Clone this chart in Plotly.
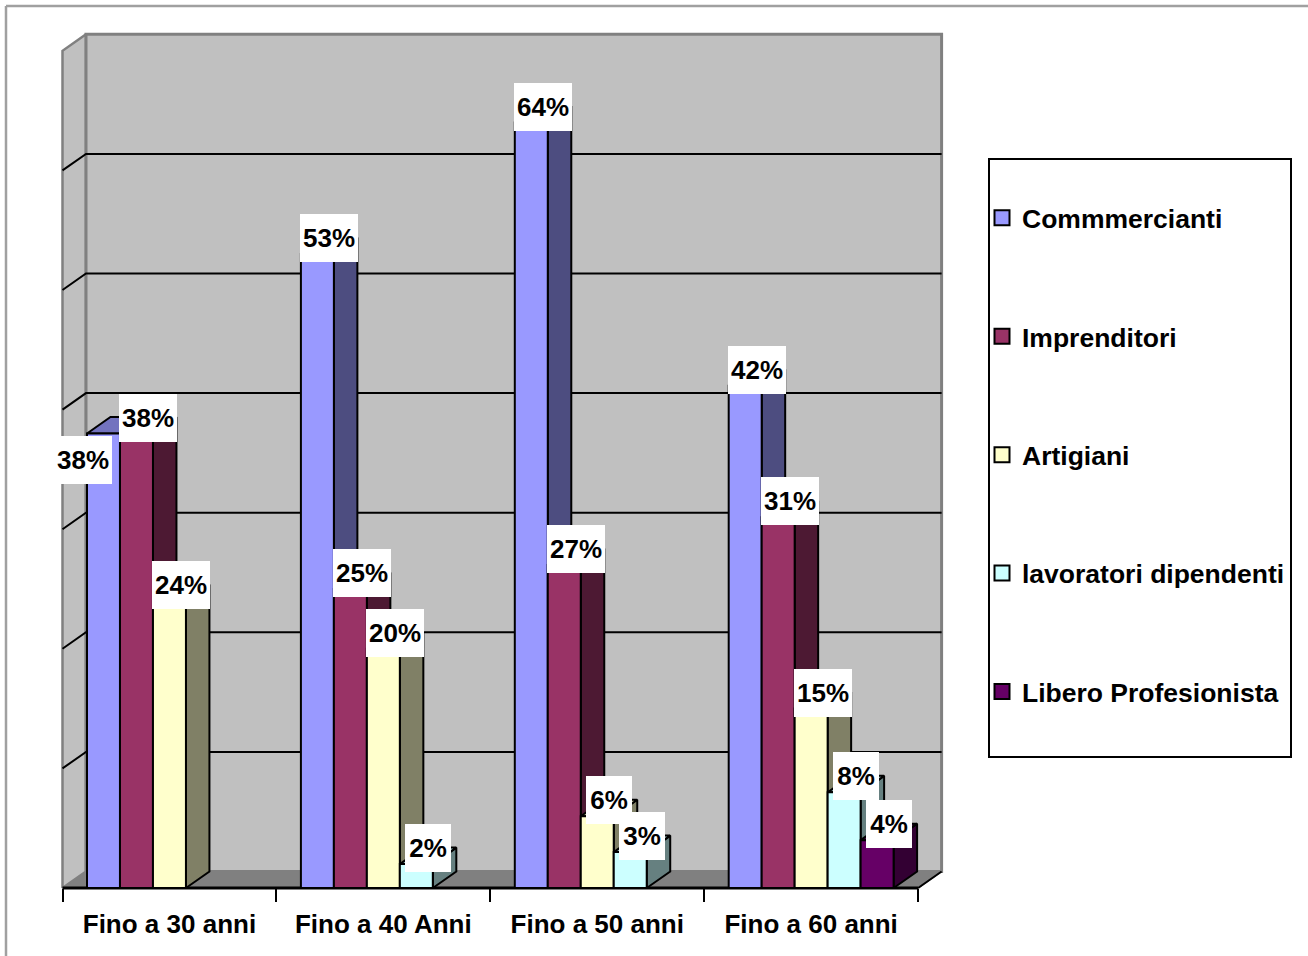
import plotly.graph_objects as go

# Survey shares by age band and occupation (percent)
categories = ["Fino a 30 anni", "Fino a 40 Anni", "Fino a 50 anni", "Fino a 60 anni"]
series_names = ["Commmercianti", "Imprenditori", "Artigiani", "lavoratori dipendenti", "Libero Profesionista"]
commercianti = [38, 53, 64, 42]
imprenditori = [38, 25, 27, 31]
artigiani = [24, 20, 6, 15]
dipendenti = [None, 2, 3, 8]
professionisti = [None, None, None, 4]
series_values = [commercianti, imprenditori, artigiani, dipendenti, professionisti]
grid_values = [10, 20, 30, 40, 50, 60]

front_colors = ["#9999FF", "#993366", "#FFFFCC", "#CCFFFF", "#660066"]
side_colors = ["#4D4D80", "#4D1933", "#808066", "#668080", "#330033"]
top_colors = ["#7373BF", "#732650", "#BFBF99", "#99BFBF", "#4D004D"]

W, H = 1308, 956
X0, CAT_W = 62.5, 213.9      # left edge of the category band, pixels per category
Y0, PCT_H = 888, 11.96       # baseline row, pixels per percentage point
DX, DY = 23.5 / CAT_W, 16.5 / PCT_H   # oblique depth of the 3D box, in axis units
Y_MAX = 70
BARGAP = 49 / CAT_W
BAR_W = (1 - BARGAP) / len(series_names)

x_range = [-X0 / CAT_W, (W - X0) / CAT_W]
y_range = [(Y0 - H) / PCT_H, Y0 / PCT_H]
n_cat = len(categories)
FONT = "Liberation Sans"

fig = go.Figure()


def poly(xs, ys, fill, line="#000000", width=2):
    fig.add_trace(go.Scatter(
        x=list(xs) + [xs[0]], y=list(ys) + [ys[0]], mode="lines", fill="toself",
        fillcolor=fill, line=dict(color=line, width=width), showlegend=False,
        hoverinfo="skip", xaxis="x", yaxis="y"))


def segment(xs, ys, color, width):
    fig.add_trace(go.Scatter(
        x=xs, y=ys, mode="lines", line=dict(color=color, width=width),
        showlegend=False, hoverinfo="skip", xaxis="x", yaxis="y"))


# Floor and walls of the box
poly([0, DX, n_cat + DX, n_cat], [0, DY, DY, 0], "#808080", "#707070", 1.5)
poly([0, 0, DX, DX], [0, Y_MAX, Y_MAX + DY, DY], "#C0C0C0", "#808080", 2.5)
poly([DX, DX, n_cat + DX, n_cat + DX], [DY, Y_MAX + DY, Y_MAX + DY, DY], "#C0C0C0", "#808080", 3)

# Gridlines across the back and left walls
for g in grid_values:
    segment([0, DX, n_cat + DX], [g, g + DY, g + DY], "#000000", 2)

# Right edge of the floor
segment([n_cat, n_cat + DX], [0, DY], "#000000", 2)

# Oblique side and top faces of each bar, left to right
for c in range(n_cat):
    for s, values in enumerate(series_values):
        v = values[c]
        if v is None:
            continue
        left = c + BARGAP / 2 + s * BAR_W
        right = left + BAR_W
        poly([right, right + DX, right + DX, right], [0, DY, v + DY, v], side_colors[s])
        poly([left, left + DX, right + DX, right], [v, v + DY, v + DY, v], top_colors[s])

# Baseline under the bars
segment([0, n_cat], [0, 0], "#000000", 3)

# Legend entries, one group each so the group gap spreads them out
for s, name in enumerate(series_names):
    fig.add_trace(go.Scatter(
        x=[None], y=[None], mode="markers", name=name, legendgroup=name,
        marker=dict(symbol="square", size=15, color=front_colors[s],
                    line=dict(color="#000000", width=2)),
        xaxis="x", yaxis="y"))

# Front faces of the bars, above every oblique face
centers = [c + 0.5 for c in range(n_cat)]
for s, values in enumerate(series_values):
    fig.add_trace(go.Bar(
        x=centers, y=values, name=series_names[s], showlegend=False,
        marker=dict(color=front_colors[s], line=dict(color="#000000", width=2)),
        xaxis="x2", yaxis="y2"))

# Value labels on white plates
annotations = []
for c in range(n_cat):
    for s, values in enumerate(series_values):
        v = values[c]
        if v is None:
            continue
        center = c + BARGAP / 2 + (s + 0.5) * BAR_W
        moved_aside = (c == 0 and s == 0)
        annotations.append(dict(
            x=center, y=v, xref="x", yref="y", text=f"{v}%", showarrow=False,
            xshift=-20 if moved_aside else 12, yshift=-26 if moved_aside else 16,
            width=58 if v >= 10 else 46, height=48, bgcolor="#FFFFFF",
            borderpad=0, borderwidth=0, align="center", valign="middle",
            font=dict(family=FONT, size=26, color="#000000", weight="bold")))

axis_pos = (H - Y0) / H
shapes = [
    dict(type="line", xref="paper", yref="paper", x0=6 / W, x1=1, y0=1 - 6 / H, y1=1 - 6 / H,
         line=dict(color="#A0A0A0", width=2.5)),
    dict(type="line", xref="paper", yref="paper", x0=6 / W, x1=6 / W, y0=0, y1=1 - 6 / H,
         line=dict(color="#A0A0A0", width=2.5)),
    dict(type="rect", xref="paper", yref="paper", x0=989 / W, x1=1291 / W,
         y0=1 - 757 / H, y1=1 - 159 / H, fillcolor="#FFFFFF",
         line=dict(color="#000000", width=2)),
]

fig.update_layout(
    width=W, height=H, margin=dict(l=0, r=0, t=0, b=0),
    paper_bgcolor="#FFFFFF", plot_bgcolor="rgba(0,0,0,0)",
    barmode="group", bargap=BARGAP, bargroupgap=0,
    annotations=annotations, shapes=shapes, hovermode=False,
    legend=dict(x=982 / W, xanchor="left", y=1 - 194 / H, yanchor="top",
                bgcolor="rgba(0,0,0,0)", borderwidth=0, tracegroupgap=81,
                traceorder="grouped",
                font=dict(family=FONT, size=26.5, color="#000000", weight="bold")),
    xaxis=dict(range=x_range, domain=[0, 1], anchor="free", position=axis_pos,
               showgrid=False, zeroline=False, showline=False,
               tickmode="array", tickvals=list(range(n_cat + 1)),
               ticktext=[""] * (n_cat + 1), ticks="outside", ticklen=13,
               tickwidth=2, tickcolor="#000000"),
    yaxis=dict(range=y_range, domain=[0, 1], visible=False),
    xaxis2=dict(range=x_range, domain=[0, 1], overlaying="x", anchor="free",
                position=axis_pos, showgrid=False, zeroline=False, showline=False,
                tickmode="array", tickvals=centers, ticktext=categories, ticks="",
                ticklabelstandoff=18, side="bottom",
                tickfont=dict(family=FONT, size=26, color="#000000", weight="bold")),
    yaxis2=dict(range=y_range, domain=[0, 1], overlaying="y", visible=False),
)

fig.write_html("out.html")
